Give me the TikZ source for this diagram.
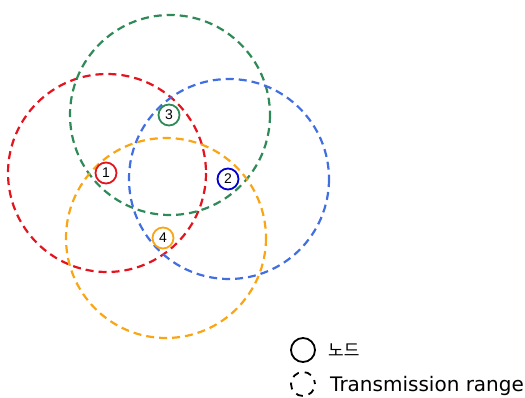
\documentclass[tikz,border=0pt]{standalone}
\usepackage{fontspec}
\setmainfont{Liberation Sans}
\newfontfamily\krfont{Noto Sans CJK KR}
\newfontfamily\widefont{DejaVu Sans}
\begin{document}
\begin{tikzpicture}[x=1pt,y=-1pt,
  range/.style={draw=#1,line width=2.2pt,dash pattern=on 8pt off 5pt},
  nodec/.style={draw=#1,line width=1.8pt,circle,minimum size=21pt,inner sep=0pt,font=\fontsize{14}{14}\selectfont},
]
\definecolor{cred}{RGB}{228,20,30}
\definecolor{cgreen}{RGB}{46,139,87}
\definecolor{cblue}{RGB}{65,110,225}
\definecolor{corange}{RGB}{250,165,20}
\definecolor{cdblue}{RGB}{0,0,210}
\useasboundingbox (0,0) rectangle (525,398);
\coordinate (r) at (107,173);
\coordinate (g) at (170,115);
\coordinate (b) at (229,179);
\coordinate (o) at (166,238);
\draw[range=cred] (r) circle (99);
\draw[range=cgreen] (g) circle (100);
\draw[range=cblue] (b) circle (100);
\draw[range=corange] (o) circle (100);
\node[nodec=cred,fill=white] (n1) at (106,173) {1};
\node[nodec=cdblue] (n2) at (228,179) {2};
\node[nodec=cgreen] (n3) at (169,115) {3};
\node[nodec=corange] (n4) at (163,238) {4};
\node[draw=black,line width=1.8pt,circle,minimum size=24pt,inner sep=0pt] (l1) at (303,350) {};
\node[draw=black,line width=1.8pt,circle,minimum size=24pt,inner sep=0pt,dash pattern=on 7pt off 6pt,dash phase=3pt] (l2) at (303,384) {};
\node[anchor=west,inner sep=0pt,font=\krfont\fontsize{17}{17}\selectfont] (t1) at (328,350) {노드};
\node[anchor=west,inner sep=0pt,font=\widefont\fontsize{20}{20}\selectfont] (t2) at (330,386) {Transmission range};
\end{tikzpicture}
\end{document}
